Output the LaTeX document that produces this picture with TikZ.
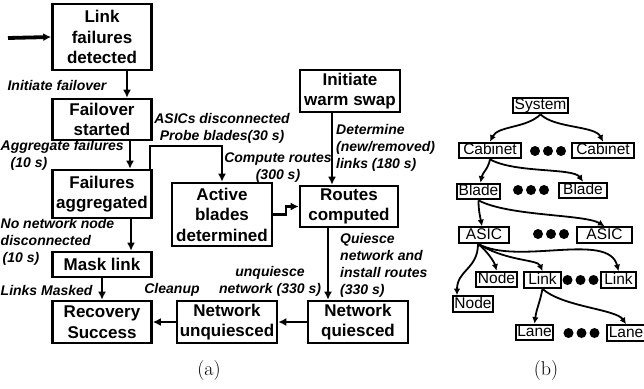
\documentclass[tikz,border=0pt]{standalone}
\usepackage{fontspec}
\setsansfont{Liberation Sans}
\usepackage{tikz}
\usepgflibrary{arrows}
\usetikzlibrary{shapes}
\usetikzlibrary{arrows.meta}
\usetikzlibrary{positioning}

\begin{document}
\begin{tikzpicture}[x=1pt,y=-1pt]
	\tikzset{state/.style = {shape=rectangle,draw,line width=2.6pt,align=center,
			font=\sffamily\bfseries\fontsize{17}{20.5}\selectfont,
			inner sep=0pt, minimum width=99pt}}
	\tikzset{lbl/.style = {font=\sffamily\bfseries\itshape\fontsize{14}{17}\selectfont,
			inner sep=0pt}}
	\tikzset{edge/.style = {->,> = {Latex[length=8pt,width=8pt]}, line width=2.4pt}}
	\tikzset{part/.style = {shape=rectangle,draw,line width=2.2pt,
			font=\sffamily\fontsize{15.5}{15.5}\selectfont, inner xsep=1.5pt,
			inner ysep=0.5pt, text height=11.5pt, text depth=3pt}}
	\tikzset{tedge/.style = {->,> = {Latex[length=6.5pt,width=6.5pt]}, line width=1.8pt}}
	\tikzset{subfig/.style = {font=\rmfamily\fontsize{20}{22}\selectfont, inner sep=0pt}}
	
	\useasboundingbox (0,0) rectangle (644,388);
	
	% states (a)
	\node[state, minimum height=66pt] (lfd) at (102,37) {Link\\failures\\detected};
	\node[state, minimum height=41pt] (fs) at (102,119.5) {Failover\\started};
	\node[state, minimum height=48pt] (fa) at (102,194) {Failures\\aggregated};
	\node[state, minimum height=25pt] (ml) at (102,264.5) {Mask link};
	\node[state, minimum height=42pt] (rs) at (102,322) {Recovery\\Success};
	\node[state, minimum width=100pt, minimum height=63pt] (abd) at (222,214.5) {Active\\blades\\determined};
	\node[state, minimum width=100pt, minimum height=42pt] (iws) at (350,91) {Initiate\\warm swap};
	\node[state, minimum width=98pt, minimum height=41pt] (rc) at (349,206.5) {Routes\\computed};
	\node[state, minimum width=100pt, minimum height=42pt] (nq) at (358,322) {Network\\quiesced};
	\node[state, minimum width=100pt, minimum height=42pt] (nu) at (227,322) {Network\\unquiesced};
	\coordinate (entry) at (8,38);
	\coordinate (probe) at (150,146);
	\coordinate (step) at (286,0);
	
	% labels (a)
	\node[lbl] (l1) at (57,85) {Initiate failover};
	\node[lbl, align=left, anchor=north west] (l2) at (0.5,140) {Aggregate failures\\\hspace*{10pt}(10 s)};
	\node[lbl, align=left, anchor=north west] (l3) at (0.5,218) {No network node\\disconnected\\\hspace*{2pt}(10 s)};
	\node[lbl, anchor=west] (l4) at (0.5,290) {Links Masked};
	\node[lbl] (l5) at (172,290) {Cleanup};
	\node[lbl, align=center] (l6) at (222,128) {ASICs disconnected\\Probe blades(30 s)};
	\node[lbl, align=center] (l7) at (278,168) {Compute routes\\(300 s)};
	\node[lbl, align=left, anchor=north west] (l8) at (336,124) {Determine\\(new/removed)\\links (180 s)};
	\node[lbl, align=left, anchor=north west] (l9) at (340,233) {Quiesce\\network and\\install routes\\(330 s)};
	\node[lbl, align=center] (l10) at (270,281) {unquiesce\\network (330 s)};
	
	%edges (a)
	\draw[edge, line width=3.8pt] (entry) -- (lfd.west);
	\draw[edge] ([xshift=25pt]lfd.south) -- ([xshift=25pt]fs.north);
	\draw[edge] ([xshift=28pt]fs.south) -- ([xshift=28pt]fa.north);
	\draw[edge] ([xshift=29pt]fa.south) -- ([xshift=29pt]ml.north);
	\draw[edge] (ml) -- (rs);
	\draw[edge] (fa.north east -| probe) -- (probe) -| (abd.north);
	\draw[edge] (abd.east) -| (step |- rc.west) -- (rc.west);
	\draw[edge] ([xshift=-18pt]iws.south) -- ([xshift=-18pt]iws.south |- rc.north);
	\draw[edge] ([xshift=-21pt]rc.south) -- ([xshift=-21pt]rc.south |- nq.north);
	\draw[edge] (nq.west) -- (nu.east);
	\draw[edge] (nu.west) -- (rs.east);
	
	% tree (b)
	\node[part] (sys) at (540.5,105.5) {System};
	\node[part, minimum width=62pt] (cab1) at (490,150.5) {Cabinet};
	\node[part, minimum width=62pt] (cab2) at (603,150.5) {Cabinet};
	\node[part, minimum width=39pt] (bl1) at (478.5,191.5) {Blade};
	\node[part, minimum width=48pt] (bl2) at (583,190.5) {Blade};
	\node[part, minimum width=50pt] (as1) at (484,235) {ASIC};
	\node[part, minimum width=55pt] (as2) at (604.5,235) {ASIC};
	\node[part, minimum width=40pt] (nd2) at (473,304) {Node};
	\node[part, minimum width=41pt] (nd1) at (496.5,279.5) {Node};
	\node[part, minimum width=37pt] (lk1) at (542.5,280) {Link};
	\node[part, minimum width=35pt] (lk2) at (618.5,280) {Link};
	\node[part, minimum width=37pt] (ln1) at (534.5,332.5) {Lane};
	\node[part, minimum width=38pt] (ln2) at (626,333) {Lane};
	\coordinate (d1) at (548,151);
	\coordinate (d2) at (531,190);
	\coordinate (d3) at (551,234);
	\coordinate (d4) at (580.5,280);
	\coordinate (d5) at (581.5,333);
	\foreach \d in {d1,d2,d3,d4,d5}
		\foreach \x in {-13,0,13}
			\fill (\d) ++(\x,0) circle (5pt);
	
	%edges (b)
	\draw[tedge] (sys.south) .. controls +(-14,14) and +(8,-16) .. (cab1.north);
	\draw[tedge] (sys.south) .. controls +(14,14) and +(-8,-16) .. (cab2.north);
	\draw[tedge] (cab1.south) .. controls +(-2,10) and +(2,-10) .. ([xshift=2pt]bl1.north);
	\draw[tedge] (cab1.south) .. controls +(25,14) and +(-10,-14) .. (bl2.north);
	\draw[tedge] (bl1.south) .. controls +(0,10) and +(-2,-10) .. ([xshift=-2pt]as1.north);
	\draw[tedge] (bl1.south) .. controls +(30,16) and +(-20,-12) .. (as2.north);
	\draw[tedge] ([xshift=-6pt]as1.south) .. controls +(0,25) and +(0,-25) .. ([xshift=-16pt]nd2.north);
	\draw[tedge] ([xshift=-6pt]as1.south) .. controls +(10,8) and +(-2,-8) .. (nd1.north);
	\draw[tedge] ([xshift=-6pt]as1.south) .. controls +(30,18) and +(-5,-12) .. (lk1.north);
	\draw[tedge] ([xshift=-6pt]as1.south) .. controls +(40,22) and +(-10,-40) .. (lk2.north);
	\draw[tedge] (lk1.south) .. controls +(-3,15) and +(2,-15) .. (ln1.north);
	\draw[tedge] (lk1.south) .. controls +(20,18) and +(-10,-15) .. (ln2.north);
	
	% sub-figure tags
	\node[subfig] (capa) at (209,371) {(a)};
	\node[subfig] (capb) at (546,371) {(b)};
	
\end{tikzpicture}
\end{document}
